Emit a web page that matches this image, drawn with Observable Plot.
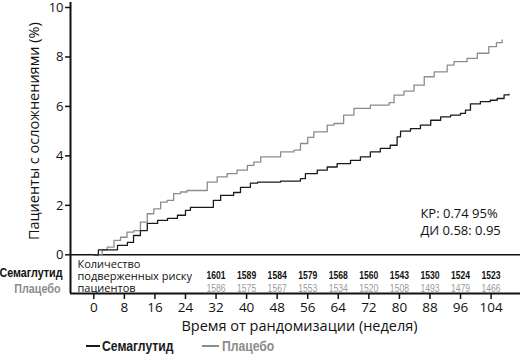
<!DOCTYPE html>
<html><head><meta charset="utf-8">
<script src="https://cdn.jsdelivr.net/npm/d3@7"></script>
<script src="https://cdn.jsdelivr.net/npm/@observablehq/plot@0.6"></script>
<style>
body{margin:0;background:#fff;font-family:"Open Sans","Noto Sans",sans-serif;}
svg{display:block;}
</style></head>
<body><div id="chart"></div><div id="legend"></div>
<script>
const seriesNames = ["Семаглутид", "Плацебо"];
const seriesColors = ["#1a1a1a", "#8c8c8c"];
const xTicks = [0, 8, 16, 24, 32, 40, 48, 56, 64, 72, 80, 88, 96, 104];
const yTicks = [0, 2, 4, 6, 8, 10];
const riskWeeks = [32, 40, 48, 56, 64, 72, 80, 88, 96, 104];
const semaRisk = [1601, 1589, 1584, 1579, 1568, 1560, 1543, 1530, 1524, 1523];
const placRisk = [1586, 1575, 1567, 1553, 1534, 1520, 1508, 1493, 1479, 1466];
const semaWeek = [0,1.2,6.2,8.8,10.4,12.2,14,16.7,19.3,21.9,24,25.3,31.3,33.2,36.6,38.4,41,42.9,48.9,54.1,55.4,58.5,61.1,63.7,67.2,69.8,72.4,75,77.6,79.4,80.3,82.9,85.5,88.2,90.8,93.4,96,97.3,98.6,101.2,103.8,105.6,107.4,108.7];
const semaPct  = [0,0.2,0.38,0.5,0.78,0.98,1.27,1.39,1.47,1.6,1.8,1.92,2.2,2.4,2.52,2.73,2.9,2.94,2.98,3.08,3.28,3.42,3.55,3.69,3.82,3.96,4.16,4.3,4.43,4.77,5.0,5.1,5.24,5.44,5.58,5.65,5.72,5.85,6.1,6.19,6.25,6.32,6.47,6.5];
const placWeek = [0,2.2,3.5,5.3,7,8.7,10.5,12.2,14,15.7,17.5,19.2,20.9,22.7,24.4,29.7,32.3,34.9,37.5,40.2,41.9,43.7,48.9,52.4,54.1,56,57.6,61.1,62.9,65.4,68.1,72.4,77.3,78.6,81.2,83.8,86.5,89.1,92.5,94.3,97.7,100.4,103.4,105.4,106.9];
const placPct  = [0,0.2,0.31,0.58,0.71,0.92,0.98,1.32,1.66,1.86,2.13,2.2,2.47,2.54,2.6,2.94,3.15,3.28,3.42,3.62,3.75,3.96,4.16,4.23,4.5,4.75,4.97,5.24,5.31,5.65,5.92,6.05,6.15,6.46,6.62,6.86,7.2,7.4,7.67,7.81,7.94,8.15,8.42,8.58,8.69];
const tableLines = ["Количество", "подверженных риску", "пациентов"];
const hrText = "КР: 0.74 95%\nДИ 0.58: 0.95";
const yTitle = "Пациенты с осложнениями (%)";
const xTitle = "Время от рандомизации (неделя)";

const xMin = -6.1, xMax = 111.7, yMin = -1.565, yMax = 10;
const sema = semaWeek.map((w, i) => ({week: w, pct: semaPct[i]}));
const plac = placWeek.map((w, i) => ({week: w, pct: placPct[i]}));
const semaRows = riskWeeks.map((w, i) => ({week: w, n: String(semaRisk[i])}));
const placRows = riskWeeks.map((w, i) => ({week: w, n: String(placRisk[i])}));
const tableRows = tableLines.map((t, i) => ({t, y: -0.4 - 0.49 * i}));
const narrow = "'Liberation Sans',Arial,sans-serif";

const chart = Plot.plot({
  width: 520, height: 336,
  marginLeft: 70, marginRight: 0, marginTop: 7, marginBottom: 43,
  style: {fontFamily: "'Open Sans','Noto Sans',sans-serif", background: "#fff", overflow: "visible"},
  x: {domain: [xMin, xMax]},
  y: {domain: [yMin, yMax]},
  marks: [
    Plot.ruleX([xMin], {y1: yMin, y2: yMax + 0.2, stroke: "#111", strokeWidth: 2}),
    Plot.ruleY([0], {x1: xMin, x2: xMax, stroke: "#111", strokeWidth: 1.5}),
    Plot.ruleY([yMin], {x1: xMin, x2: xMax, stroke: "#111", strokeWidth: 2}),
    Plot.axisY({ticks: yTicks, tickSize: 5, fontSize: 13, label: null, tickPadding: 2, stroke: "#111", strokeWidth: 1.5, color: "#111"}),
    Plot.axisX({ticks: xTicks, tickSize: 6, fontSize: 13.5, tickPadding: 3, label: null, stroke: "#111", strokeWidth: 1.5, color: "#111"}),
    Plot.text([xTitle], {x: (xMin + xMax) / 2, y: yMin, text: d => d, dy: 33, dx: 4, fontSize: 14.5, fill: "#111"}),
    Plot.text([yTitle], {x: xMin, y: yMax / 2, text: d => d, rotate: -90, dx: -36, fontSize: 14.5, fill: "#111"}),
    Plot.line(plac, {x: "week", y: "pct", curve: "step-after", stroke: seriesColors[1], strokeWidth: 1.3}),
    Plot.line(sema, {x: "week", y: "pct", curve: "step-after", stroke: seriesColors[0], strokeWidth: 1.3}),
    Plot.text(tableRows, {x: xMin, y: "y", text: "t", dx: 7, textAnchor: "start", fontSize: 11, fill: "#111"}),
    Plot.text(semaRows, {x: "week", y: -0.84, text: "n", fontSize: 10, fontWeight: "bold", fontFamily: narrow, fill: "#111", className: "cond"}),
    Plot.text(placRows, {x: "week", y: -1.38, text: "n", fontSize: 10, fontFamily: narrow, fill: "#999", className: "cond"}),
    Plot.text([seriesNames[0]], {x: xMin, y: -0.72, text: d => d, dx: -8, textAnchor: "end", fontSize: 12.5, fontWeight: "bold", fontFamily: narrow, fill: "#111", className: "cond"}),
    Plot.text([seriesNames[1]], {x: xMin, y: -1.4, text: d => d, dx: -10, textAnchor: "end", fontSize: 12.5, fontWeight: "bold", fontFamily: narrow, fill: seriesColors[1], className: "cond"}),
    Plot.text([hrText], {x: 85.5, y: 1.37, text: d => d, textAnchor: "start", lineHeight: 1.3, fontSize: 13, fill: "#111"})
  ]
});
document.getElementById("chart").appendChild(chart);

function condense(sel, f) {
  sel.each(function() {
    const L = this.getComputedTextLength();
    if (L > 0) { this.setAttribute("textLength", (L * f).toFixed(1)); this.setAttribute("lengthAdjust", "spacingAndGlyphs"); }
  });
}
condense(d3.select(chart).selectAll(".cond text"), 0.86);

// legend below the chart
const lg = d3.select("#legend").append("svg").attr("width", 520).attr("height", 19)
  .style("font-family", narrow).style("font-weight", "bold").style("font-size", "14.5px");
const lgPos = [[86, 100, 102], [202, 219, 222]];
seriesNames.forEach((name, i) => {
  const [a, b, t] = lgPos[i];
  lg.append("line").attr("x1", a).attr("x2", b).attr("y1", 10).attr("y2", 10)
    .attr("stroke", seriesColors[i]).attr("stroke-width", 2);
  lg.append("text").attr("x", t).attr("y", 10).attr("dy", "0.35em")
    .attr("fill", seriesColors[i]).text(name);
});
condense(lg.selectAll("text"), 0.84);
</script></body></html>
